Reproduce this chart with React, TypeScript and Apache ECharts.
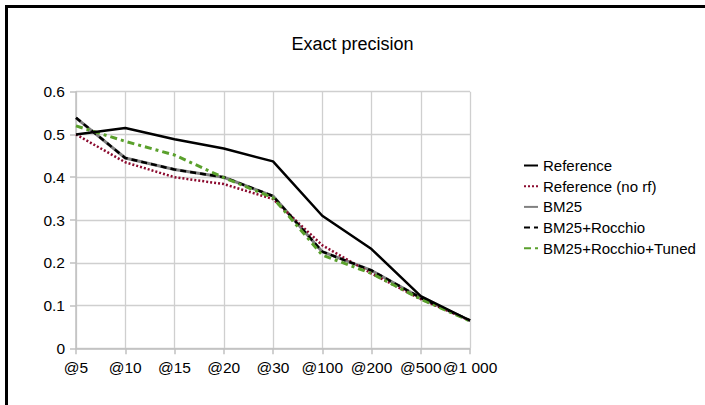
import React, { useEffect, useRef } from "react";
import * as echarts from "echarts";

const categories = ["@5", "@10", "@15", "@20", "@30", "@100", "@200", "@500", "@1 000"];
const yTicks = [0, 0.1, 0.2, 0.3, 0.4, 0.5, 0.6];
const reference = [0.5, 0.515, 0.489, 0.467, 0.437, 0.31, 0.232, 0.122, 0.065];
const referenceNoRf = [0.5, 0.435, 0.4, 0.384, 0.349, 0.241, 0.175, 0.115, 0.065];
const bm25 = [0.539, 0.445, 0.418, 0.4, 0.356, 0.226, 0.182, 0.118, 0.065];
const bm25Rocchio = [0.539, 0.445, 0.418, 0.4, 0.356, 0.226, 0.182, 0.118, 0.065];
const bm25RocchioTuned = [0.52, 0.484, 0.452, 0.399, 0.352, 0.218, 0.175, 0.115, 0.064];

export default function App() {
  const ref = useRef<HTMLDivElement>(null);
  useEffect(() => {
    if (!ref.current) return;
    const chart = echarts.init(ref.current, null, { renderer: "svg" });
    const font = "Liberation Sans, Arial, sans-serif";
    chart.setOption({
      animation: false,
      backgroundColor: "#ffffff",
      textStyle: { fontFamily: font },
      title: {
        text: "Exact precision",
        left: "center",
        top: 30,
        textStyle: { fontFamily: font, fontSize: 18, fontWeight: "normal", color: "#000" },
      },
      graphic: [
        { type: "rect", shape: { x: 5, y: 5, width: 3, height: 400 }, style: { fill: "#000" } },
        { type: "rect", shape: { x: 5, y: 5, width: 700, height: 3 }, style: { fill: "#000" } },
      ],
      grid: { left: 76, right: 235, top: 91.7, bottom: 56.7, containLabel: false },
      legend: {
        orient: "vertical",
        left: 523,
        top: 157,
        padding: 0,
        itemWidth: 14,
        itemHeight: 14,
        itemGap: 3.7,
        itemStyle: { opacity: 0 },
        textStyle: { fontFamily: font, fontSize: 15, color: "#000", lineHeight: 17 },
        data: ["Reference", "Reference (no rf)", "BM25", "BM25+Rocchio", "BM25+Rocchio+Tuned"],
      },
      xAxis: {
        type: "category",
        data: categories,
        boundaryGap: false,
        axisLine: { lineStyle: { color: "#c0c0c0", width: 1.5 } },
        axisTick: { show: true, alignWithLabel: true, length: 6, lineStyle: { color: "#c0c0c0", width: 1.5 } },
        axisLabel: { color: "#000", fontSize: 15.5, fontFamily: font, margin: 11, interval: 0 },
        splitLine: { show: true, lineStyle: { color: "#cfcfcf", width: 1.3 } },
      },
      yAxis: {
        type: "value",
        min: yTicks[0],
        max: yTicks[yTicks.length - 1],
        interval: 0.1,
        axisLine: { show: true, lineStyle: { color: "#c0c0c0", width: 1.5 } },
        axisTick: { show: true, length: 6, lineStyle: { color: "#c0c0c0", width: 1.5 } },
        axisLabel: { color: "#000", fontSize: 15.5, fontFamily: font, margin: 11 },
        splitLine: { show: true, lineStyle: { color: "#cfcfcf", width: 1.3 } },
      },
      series: [
        {
          name: "Reference",
          type: "line",
          data: reference,
          symbol: "none",
          z: 5,
          lineStyle: { color: "#000000", width: 2.5, type: "solid" },
          itemStyle: { color: "#000000" },
        },
        {
          name: "Reference (no rf)",
          type: "line",
          data: referenceNoRf,
          symbol: "none",
          z: 3,
          lineStyle: { color: "#8b0a2e", width: 2.5, type: [2, 2] },
          itemStyle: { color: "#8b0a2e" },
        },
        {
          name: "BM25",
          type: "line",
          data: bm25,
          symbol: "none",
          z: 2,
          lineStyle: { color: "#808080", width: 3, type: "solid" },
          itemStyle: { color: "#808080" },
        },
        {
          name: "BM25+Rocchio",
          type: "line",
          data: bm25Rocchio,
          symbol: "none",
          z: 4,
          lineStyle: { color: "#000000", width: 2.5, type: [6, 4] },
          itemStyle: { color: "#000000" },
        },
        {
          name: "BM25+Rocchio+Tuned",
          type: "line",
          data: bm25RocchioTuned,
          symbol: "none",
          z: 4,
          lineStyle: { color: "#5aa02c", width: 3, type: [7, 4, 3, 4] },
          itemStyle: { color: "#5aa02c" },
        },
      ],
    });
    return () => chart.dispose();
  }, []);
  return <div ref={ref} style={{ width: 705, height: 405, position: "absolute", left: 0, top: 0 }} />;
}
